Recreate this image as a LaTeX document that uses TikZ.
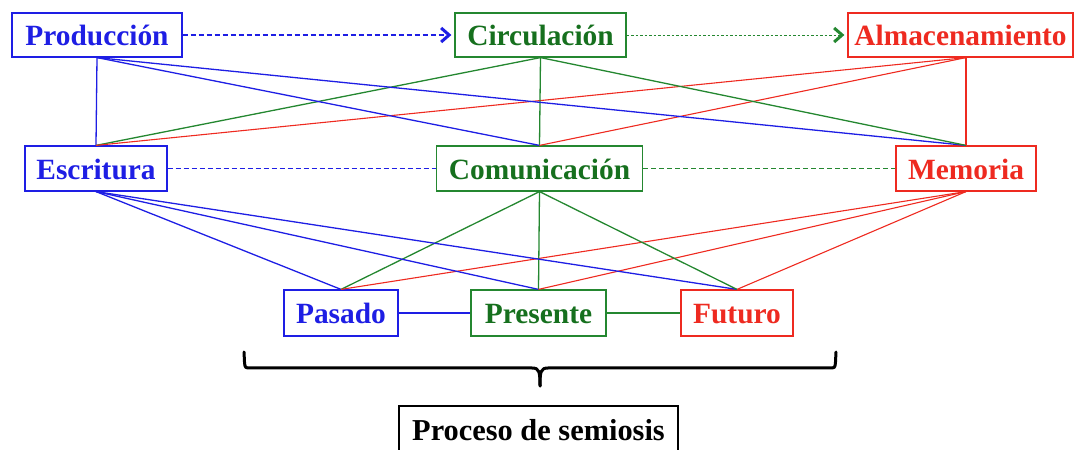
\documentclass[tikz,border=0pt]{standalone}
\usepackage{fontspec}
\setmainfont{Liberation Serif}
\usetikzlibrary{arrows.meta,calc}
\definecolor{myblue}{RGB}{30,30,228}
\definecolor{mygreen}{RGB}{36,135,48}
\definecolor{mygreentxt}{RGB}{22,112,30}
\definecolor{myred}{RGB}{238,42,32}
\tikzset{
  box/.style={draw, line width=1.2bp, inner sep=0pt, text height=22bp, text depth=0pt,
    font=\bfseries\fontsize{29.5}{30}\selectfont, fill=white},
  bbox/.style={box, draw=myblue, text=myblue},
  gbox/.style={box, draw=mygreen, text=mygreentxt},
  rbox/.style={box, draw=myred, text=myred},
  bl/.style={draw=myblue, line width=1.3bp},
  gl/.style={draw=mygreen, line width=1.3bp},
  rl/.style={draw=myred, line width=1.1bp},
  chev/.style={-{Straight Barb[length=8bp,width=14bp,line width=3bp]}},
  bracepath/.style={draw=black, line width=3bp, line cap=round, line join=round}
}
\begin{document}
\begin{tikzpicture}[x=1bp,y=-1bp]
\path[use as bounding box] (0,0) rectangle (1075,450);
% top row
\node[bbox, minimum width=170bp, minimum height=44bp] (prod) at (97,35) {Producción};
\node[gbox, minimum width=171bp, minimum height=44bp] (circ) at (540.5,35) {Circulación};
\node[rbox, minimum width=225bp, minimum height=44bp] (alm) at (960.5,35) {Almacenamiento};
% middle row
\node[bbox, minimum width=142bp, minimum height=45bp] (esc) at (96,168.5) {Escritura};
\node[gbox, minimum width=206bp, minimum height=45bp] (com) at (539.5,168.5) {Comunicación};
\node[rbox, minimum width=140bp, minimum height=45bp] (mem) at (966,168.5) {Memoria};
% bottom row
\node[bbox, minimum width=114bp, minimum height=46bp] (pas) at (341,313) {Pasado};
\node[gbox, minimum width=135bp, minimum height=46bp] (pre) at (538.5,313) {Presente};
\node[rbox, minimum width=112bp, minimum height=46bp] (fut) at (737,313) {Futuro};
% process box
\node[draw=black, line width=1.2bp, inner sep=0pt, minimum width=279bp, minimum height=56bp,
  text height=14bp, text depth=2bp, font=\bfseries\fontsize{30.5}{31}\selectfont] (proc) at (538.5,434) {Proceso de semiosis};

\coordinate (almS) at (mem.north |- alm.south);

% horizontal connectors
\draw[bl, line width=1.1bp, dash pattern=on 5bp off 3bp, chev, shorten >=3bp] (prod.east) -- (circ.west);
\draw[gl, line width=0.8bp, dash pattern=on 2.5bp off 2bp, chev, shorten >=3bp] (circ.east) -- (alm.west);
\draw[bl, line width=1.1bp, dash pattern=on 5bp off 3bp] (esc.east) -- (com.west);
\draw[gl, line width=1.1bp, dash pattern=on 5bp off 3bp] (com.east) -- (mem.west);
\draw[bl] (pas.east) -- (pre.west);
\draw[gl] (pre.east) -- (fut.west);

% top-to-middle
\foreach \t in {esc,com,mem} {
  \draw[bl] (prod.south) -- (\t.north);
  \draw[gl] (circ.south) -- (\t.north);
  \draw[rl] (almS) -- (\t.north);
}
% middle-to-bottom
\foreach \t in {pas,pre,fut} {
  \draw[bl] (esc.south) -- (\t.north);
  \draw[gl] (com.south) -- (\t.north);
  \draw[rl] (mem.south) -- (\t.north);
}

% brace
\coordinate (brL) at (244,352);
\coordinate (brR) at (836,352);
\coordinate (brT) at (540,386);
\draw[bracepath] (brL) -- (244.5,362) .. controls (245,368) .. (251,368) -- (532,368)
  .. controls (539,368) and (540,371) .. (brT);
\draw[bracepath] (brR) -- (835.5,362) .. controls (835,368) .. (829,368) -- (548,368)
  .. controls (541,368) and (540,371) .. (brT);
\end{tikzpicture}
\end{document}
